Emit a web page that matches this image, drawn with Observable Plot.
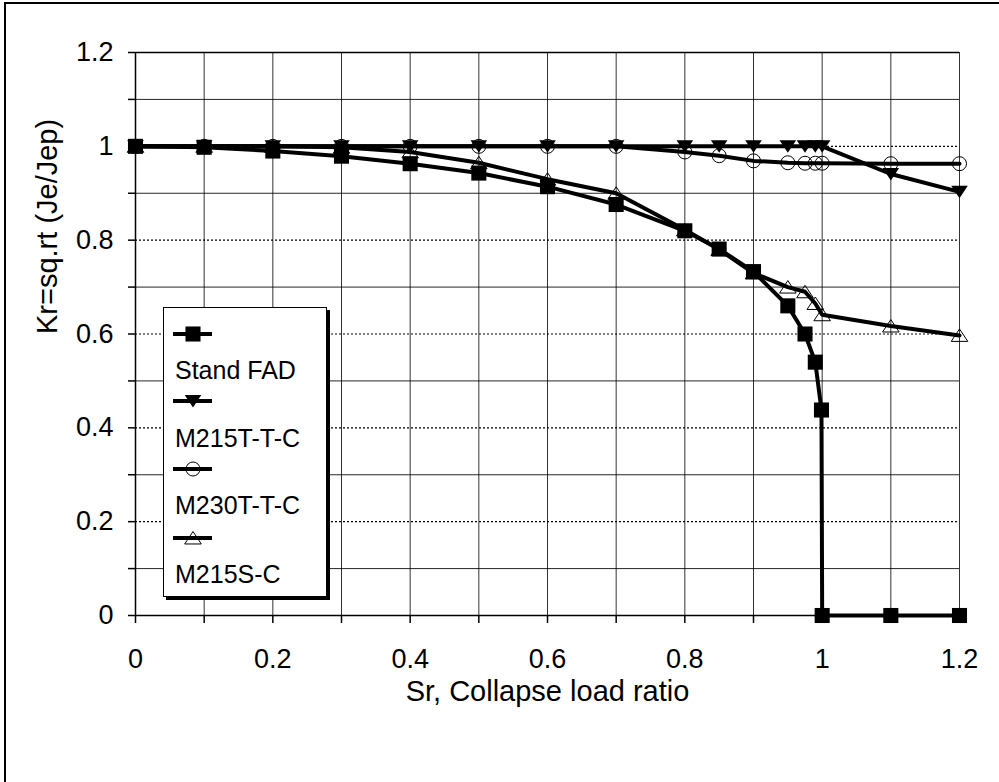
<!DOCTYPE html>
<html>
<head>
<meta charset="utf-8">
<script src="https://cdn.jsdelivr.net/npm/d3@7"></script>
<script src="https://cdn.jsdelivr.net/npm/@observablehq/plot@0.6"></script>
<style>
  html, body { margin: 0; padding: 0; background: #fff; }
  #wrap { position: relative; width: 999px; height: 782px; overflow: hidden; font-family: "Liberation Sans", Arial, sans-serif; }
  #frame { position: absolute; left: 4px; top: 2px; width: 1100px; height: 900px; border: 2px solid #000; box-sizing: border-box; }
  #chart { position: absolute; left: 0; top: 0; }
  #legend { position: absolute; left: 163px; top: 307px; width: 164px; height: 290px; border: 1.5px solid #000; box-sizing: border-box; background: #fff; box-shadow: 3px 3px 0 #000; }
  #legend svg { position: absolute; left: 0; top: 0; }
</style>
</head>
<body>
<div id="wrap">
  <div id="frame"></div>
  <div id="chart"></div>
  <div id="legend"></div>
</div>
<script>
// ---- data ----
const seriesNames = ["Stand FAD", "M215T-T-C", "M230T-T-C", "M215S-C"];

const standSr = [0, 0.1, 0.2, 0.3, 0.4, 0.5, 0.6, 0.7, 0.8, 0.85, 0.9, 0.95, 0.975, 0.99, 0.999, 1.0, 1.1, 1.2];
const standKr = [1, 0.998, 0.99, 0.979, 0.963, 0.943, 0.914, 0.876, 0.82, 0.781, 0.733, 0.66, 0.60, 0.54, 0.438, 0, 0, 0];

const testSr = [0, 0.1, 0.2, 0.3, 0.4, 0.5, 0.6, 0.7, 0.8, 0.85, 0.9, 0.95, 0.975, 0.99, 1.0, 1.1, 1.2];
const m215ttcKr = [1, 1, 1, 1, 1, 1, 1, 1, 1, 1, 1, 1, 1, 1, 1, 0.941, 0.903];
const m230ttcKr = [1, 1, 1, 1, 1, 1, 1, 1, 0.988, 0.98, 0.969, 0.965, 0.964, 0.964, 0.964, 0.963, 0.963];
const m215scKr = [1, 1, 1, 0.998, 0.988, 0.965, 0.93, 0.9, 0.822, 0.78, 0.73, 0.70, 0.69, 0.665, 0.641, 0.617, 0.597];

const xTicks = [0, 0.1, 0.2, 0.3, 0.4, 0.5, 0.6, 0.7, 0.8, 0.9, 1.0, 1.1, 1.2];
const yTicks = [0, 0.1, 0.2, 0.3, 0.4, 0.5, 0.6, 0.7, 0.8, 0.9, 1.0, 1.1, 1.2];
const yGridSolid = [0.1, 0.3, 0.5, 0.7, 0.9, 1.1];
const yGridDotted = [0.2, 0.4, 0.6, 0.8, 1.0];
const xTitle = "Sr, Collapse load ratio";
const yTitle = "Kr=sq.rt (Je/Jep)";

// ---- build tables ----
const zip = (xs, ys) => xs.map((x, i) => ({x, y: ys[i]}));
const stand = zip(standSr, standKr);
const m215ttc = zip(testSr, m215ttcKr);
const m230ttc = zip(testSr, m230ttcKr);
const m215sc = zip(testSr, m215scKr);

// custom symbols
const triDown = {draw(ctx, size) { const r = Math.sqrt(size / Math.PI); ctx.moveTo(-r, -0.72 * r); ctx.lineTo(r, -0.72 * r); ctx.lineTo(0, 0.78 * r); ctx.closePath(); }};
const triUp = {draw(ctx, size) { const r = Math.sqrt(size / Math.PI); ctx.moveTo(-r, 0.72 * r); ctx.lineTo(r, 0.72 * r); ctx.lineTo(0, -0.78 * r); ctx.closePath(); }};

const styles = [
  {symbol: "square", r: 8.5, fill: "#000", stroke: "none", strokeWidth: 0},
  {symbol: triDown, r: 8.3, fill: "#000", stroke: "none", strokeWidth: 0},
  {symbol: "circle", r: 7, fill: "none", stroke: "#000", strokeWidth: 1},
  {symbol: triUp, r: 8.3, fill: "none", stroke: "#000", strokeWidth: 1}
];
const datasets = [stand, m215ttc, m230ttc, m215sc];

const fmt = d => (Math.round(d * 10) % 2 === 0 ? String(+d.toFixed(1)) : "");

const seriesMarks = datasets.flatMap((data, i) => [
  Plot.line(data, {x: "x", y: "y", stroke: "#000", strokeWidth: 4, strokeLinejoin: "round"}),
  Plot.dot(data, {x: "x", y: "y", ...styles[i]})
]);

const chart = Plot.plot({
  width: 999,
  height: 782,
  marginLeft: 135,
  marginRight: 40,
  marginTop: 52,
  marginBottom: 167,
  x: {domain: [0, 1.2]},
  y: {domain: [0, 1.2]},
  style: {fontFamily: "'Liberation Sans', Arial, sans-serif", fontSize: "27px", color: "#000", background: "transparent", overflow: "visible"},
  marks: [
    Plot.gridX(xTicks, {stroke: "#000", strokeOpacity: 0.8, strokeWidth: 1}),
    Plot.gridY(yGridSolid, {stroke: "#000", strokeOpacity: 0.85, strokeWidth: 1}),
    Plot.gridY(yGridDotted, {stroke: "#000", strokeOpacity: 1, strokeWidth: 1.2, strokeDasharray: "2,2"}),
    Plot.ruleY([1.2], {stroke: "#000", strokeWidth: 1.5}),
    Plot.ruleY([0], {stroke: "#000", strokeWidth: 1.5}),
    Plot.ruleX([0], {stroke: "#000", strokeWidth: 1.5}),
    Plot.axisX({ticks: xTicks, tickSize: 8, tickPadding: 25, tickFormat: fmt, label: null, fontSize: 27, strokeWidth: 1.5}),
    Plot.axisY({ticks: yTicks, tickSize: 7, tickPadding: 15, tickFormat: fmt, label: null, fontSize: 27, strokeWidth: 1.5}),
    Plot.text([xTitle], {text: d => d, frameAnchor: "bottom", dy: 85, fontSize: 29}),
    Plot.text([yTitle], {text: d => d, frameAnchor: "left", dx: -88, rotate: -90, fontSize: 29}),
    ...seriesMarks
  ]
});
document.getElementById("chart").appendChild(chart);

// ---- legend ----
const legend = d3.select("#legend");
const lsvg = legend.append("svg").attr("width", 164).attr("height", 290);
const rowY = [26, 93, 161, 230];
const labelY = [62, 130, 197, 266];
seriesNames.forEach((name, i) => {
  const s = styles[i];
  const y = rowY[i];
  lsvg.append("line").attr("x1", 9).attr("x2", 48).attr("y1", y).attr("y2", y)
    .attr("stroke", "#000").attr("stroke-width", 4);
  const type = s.symbol === "square" ? d3.symbolSquare : s.symbol === "circle" ? d3.symbolCircle : s.symbol;
  lsvg.append("path")
    .attr("transform", `translate(29,${y})`)
    .attr("d", d3.symbol(type, s.r * s.r * Math.PI)())
    .attr("fill", s.fill).attr("stroke", s.stroke).attr("stroke-width", s.strokeWidth);
  lsvg.append("text").attr("x", 11).attr("y", labelY[i]).attr("dy", "0.35em")
    .attr("font-size", 25).attr("font-family", "'Liberation Sans', Arial, sans-serif")
    .text(name);
});
</script>
</body>
</html>
